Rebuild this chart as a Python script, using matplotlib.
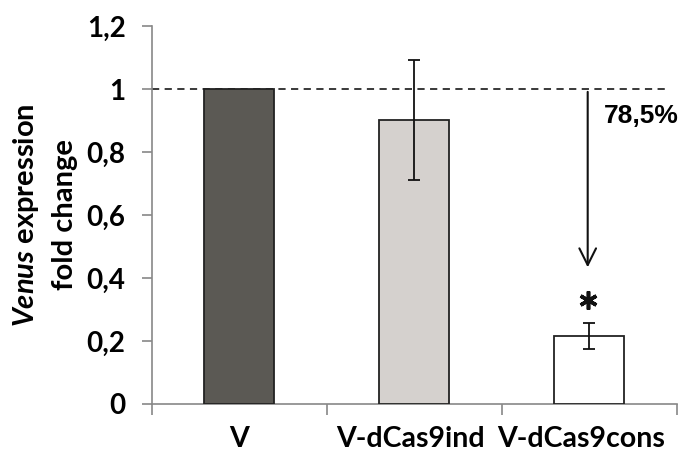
import matplotlib

matplotlib.use("Agg")
import matplotlib.pyplot as plt
import matplotlib.transforms as mtransforms

plt.rcParams["font.family"] = ["Lato", "DejaVu Sans"]
plt.rcParams["mathtext.fontset"] = "custom"
plt.rcParams["mathtext.it"] = "Lato:italic:bold"
plt.rcParams["mathtext.rm"] = "Lato:bold"

categories = ["V", "V-dCas9ind", "V-dCas9cons"]
values = [1.0, 0.902, 0.216]
errors = [0.0, 0.19, 0.04]
bar_colors = ["#5b5954", "#d5d1ce", "#ffffff"]
yticks = [0, 0.2, 0.4, 0.6, 0.8, 1.0, 1.2]
ytick_labels = ["0", "0,2", "0,4", "0,6", "0,8", "1", "1,2"]
reduction_label = "78,5%"
star_y = 0.33

fig = plt.figure(figsize=(6.8, 4.58), dpi=100)
ax = fig.add_axes([0.2235, 0.118, 0.772, 0.825])

x = list(range(len(categories)))
ax.bar(x, values, width=0.4, color=bar_colors, edgecolor="#222222", linewidth=1.3, zorder=3)
err_x = [i for i, e in zip(x, errors) if e > 0]
err_y = [v for v, e in zip(values, errors) if e > 0]
err_e = [e for e in errors if e > 0]
ax.errorbar(err_x, err_y, yerr=err_e, fmt="none", ecolor="#111111", elinewidth=1.3,
            capsize=4.5, capthick=1.3, zorder=4)

# reference line at 1 and the reduction arrow
ax.plot([-0.5, 2.43], [1, 1], linestyle=(0, (4, 3)), color="#2a2a2a", linewidth=1.3, zorder=2)
ax.annotate("", xy=(1.99, 0.425), xytext=(1.99, 1.0),
            arrowprops=dict(arrowstyle="->,head_length=1.2,head_width=0.6", color="#111111", lw=1.5))
ax.text(2.085, 0.914, reduction_label, fontsize=19, fontweight="bold", ha="left", va="center",
        family=["Liberation Sans", "DejaVu Sans"])
ax.plot([1.99], [star_y], marker=(6, 2, 0), markersize=13, markeredgewidth=2.6,
        color="#111111", linestyle="none")

ax.set_xlim(-0.5, 2.5)
ax.set_ylim(0, 1.2)
ax.set_yticks(yticks)
ax.set_yticklabels(ytick_labels, fontsize=20, fontweight="bold")
ax.set_xticks(x)
ax.set_xticklabels(categories, fontsize=20.5, fontweight="bold")
ax.set_xticks([-0.5, 0.5, 1.5, 2.5], minor=True)
ax.tick_params(axis="x", which="major", length=0, pad=16)
ax.tick_params(axis="x", which="minor", length=8, width=1.2, color="#888888", direction="out")
ax.tick_params(axis="y", length=7, width=1.2, color="#888888", pad=12)

# the long category names sit a little left of centre in the original
for label, dx in zip(ax.get_xticklabels(), [0, -3, -6]):
    label.set_transform(label.get_transform() + mtransforms.ScaledTranslation(dx / 72, 0, fig.dpi_scale_trans))

for side in ["top", "right"]:
    ax.spines[side].set_visible(False)
for side in ["left", "bottom"]:
    ax.spines[side].set_color("#888888")
    ax.spines[side].set_linewidth(1.2)

fig.text(26.5 / 680, 0.531, "$\\it{Venus}$ expression", rotation=90, fontsize=21,
         fontweight="bold", ha="center", va="center")
fig.text(65 / 680, 0.531, "fold change", rotation=90, fontsize=21,
         fontweight="bold", ha="center", va="center")

fig.savefig("out.png", dpi=100)
